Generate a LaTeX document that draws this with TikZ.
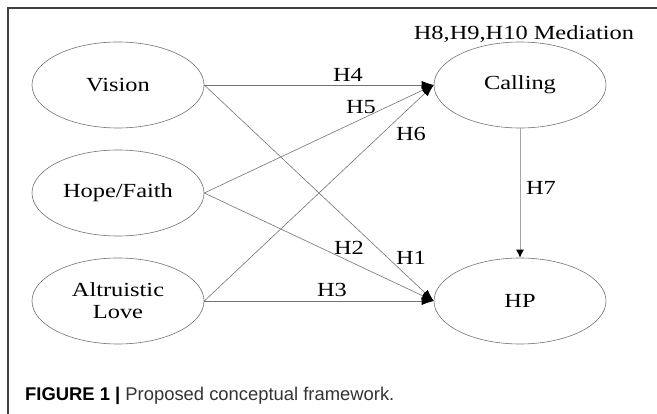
\documentclass[tikz,border=0pt]{standalone}
\usepackage{fontspec}
\setmainfont{Liberation Serif}[FakeStretch=1.22]
\newfontfamily\capfont{Liberation Sans}
\usetikzlibrary{shapes.geometric,arrows.meta}

\tikzset{
  constructo/.style={ellipse, draw=black!55, line width=0.6pt, minimum width=172pt,
    minimum height=86pt, inner sep=0pt, align=center, font=\fontsize{20}{22}\selectfont},
  flecha/.style={draw=black!55, line width=0.6pt, -{Latex[black,length=12pt,width=8pt]}},
  etiqueta/.style={font=\fontsize{20}{22}\selectfont, anchor=base, inner sep=0pt},
}

\begin{document}
\begin{tikzpicture}[x=1pt,y=-1pt]
    \useasboundingbox (0,0) rectangle (657,414);

    % Marco
    \draw[black!75, line width=1.2pt] (8,414) -- (8,8) -- (657,8);

    % Constructos
    \node[constructo] (vision)  at (118,85)  {Vision};
    \node[constructo] (hope)    at (118,193) {Hope/Faith};
    \node[constructo] (love)    at (118,301) {Altruistic\\Love};
    \node[constructo] (calling) at (520,85)  {Calling};
    \node[constructo] (hp)      at (520,301) {HP};

    % Relaciones
    \foreach \a/\b in {vision/calling, vision/hp, hope/calling, hope/hp, love/calling, love/hp} {
        \draw[flecha] (\a.east) -- (\b.west);
    }
    \draw[flecha, draw=black!35, line width=1pt, -{Latex[black,length=8pt,width=8pt]}]
        (calling.south) -- (hp.north);

    % Hipótesis
    \foreach \x/\y/\h in {411/265/H1, 349/255/H2, 332/297/H3, 348/82/H4,
                          361/114/H5, 411/141/H6, 541/195/H7} {
        \node[etiqueta] (\h) at (\x,\y) {\h};
    }
    \node[etiqueta] (mediacion) at (524,40) {H8,H9,H10 Mediation};

    % Pie de figura
    \node[anchor=base west, inner sep=0pt, font=\capfont\fontsize{18.4}{21}\selectfont] (pie)
        at (25,401) {\textbf{FIGURE 1 |} \textcolor{black!80}{Proposed conceptual framework.}};
\end{tikzpicture}
\end{document}
